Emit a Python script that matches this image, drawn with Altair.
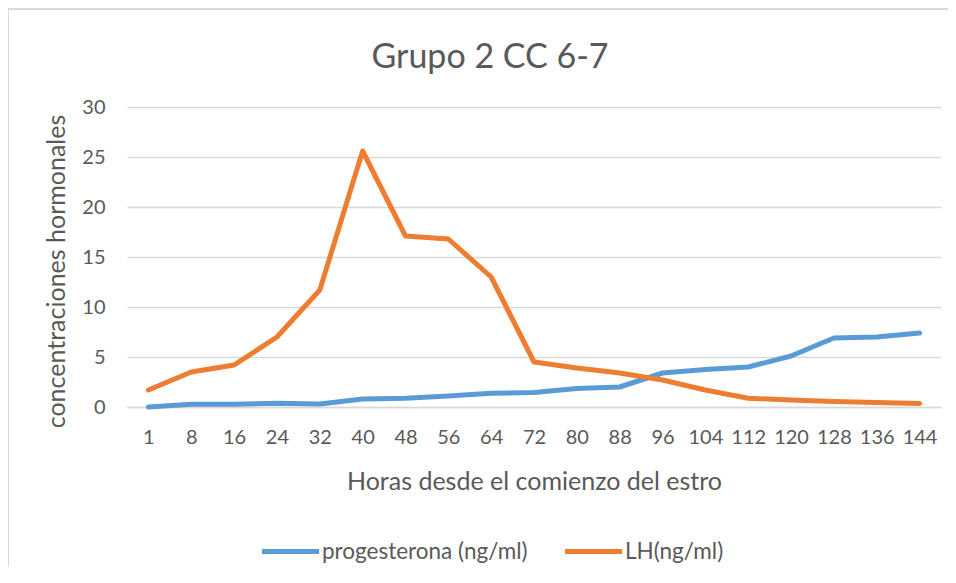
import altair as alt
import pandas as pd

horas = [1, 8, 16, 24, 32, 40, 48, 56, 64, 72, 80, 88, 96, 104, 112, 120, 128, 136, 144]
progesterona = [0.0, 0.27, 0.27, 0.37, 0.3, 0.8, 0.87, 1.1, 1.37, 1.45, 1.85, 2.0, 3.4, 3.75, 4.0, 5.1, 6.9, 7.0, 7.4]
lh = [1.7, 3.5, 4.2, 7.0, 11.7, 25.6, 17.1, 16.8, 13.0, 4.5, 3.9, 3.4, 2.7, 1.7, 0.87, 0.7, 0.55, 0.45, 0.35]
series = ["progesterona (ng/ml)", "LH(ng/ml)"]
colors = ["#5b9bd5", "#ed7d31"]
titulo = "Grupo 2 CC 6-7"

rows = []
for h, p in zip(horas, progesterona):
    rows.append({"Horas": str(h), "serie": series[0], "valor": p})
for h, v in zip(horas, lh):
    rows.append({"Horas": str(h), "serie": series[1], "valor": v})
df = pd.DataFrame(rows)

FONT = "Lato"
GREY = "#595959"

lines = alt.Chart(df).mark_line(strokeWidth=5, strokeCap="round", strokeJoin="round").encode(
    x=alt.X("Horas:O", sort=[str(h) for h in horas],
            scale=alt.Scale(type="point", padding=0.5),
            axis=alt.Axis(title="Horas desde el comienzo del estro", labelAngle=0,
                          ticks=False, domain=True, domainColor="#d9d9d9", domainWidth=1.5,
                          labelPadding=20, titlePadding=22, grid=False)),
    y=alt.Y("valor:Q", scale=alt.Scale(domain=[0, 30], nice=False),
            axis=alt.Axis(title="concentraciones hormonales", values=[0, 5, 10, 15, 20, 25, 30],
                          ticks=False, domain=False, grid=True, gridColor="#d9d9d9", gridWidth=1.5,
                          labelPadding=22, titlePadding=12, titleY=164)),
    color=alt.Color("serie:N", sort=series,
                    scale=alt.Scale(domain=series, range=colors),
                    legend=alt.Legend(title=None, orient="none", direction="horizontal",
                                      legendX=132, legendY=413, symbolType="stroke",
                                      symbolStrokeWidth=5, symbolSize=3250,
                                      labelFontSize=22.5, labelColor=GREY, labelFont=FONT,
                                      labelLimit=400, columnPadding=26, labelOffset=0)),
    order=alt.Order("serie:N"),
)

frame_top = alt.Chart(pd.DataFrame({"a": [0]})).mark_rule(stroke="#d9d9d9", strokeWidth=2).encode(
    x=alt.value(-119), x2=alt.value(840), y=alt.value(-98)
)
frame_left = alt.Chart(pd.DataFrame({"a": [0]})).mark_rule(stroke="#d9d9d9", strokeWidth=2).encode(
    x=alt.value(-119), y=alt.value(-99), y2=alt.value(500)
)

title = alt.Chart(pd.DataFrame({"t": [titulo]})).mark_text(
    font=FONT, fontSize=34, color=GREY, baseline="alphabetic", align="center"
).encode(text="t:N", x=alt.value(363), y=alt.value(-39))

chart = alt.layer(frame_top, frame_left, title, lines).properties(
    width=814, height=300,
    autosize=alt.AutoSizeParams(type="none"),
    padding={"left": 119, "top": 99, "right": 7, "bottom": 160},
).configure_view(stroke=None).configure_axis(
    labelFont=FONT, titleFont=FONT, labelColor=GREY, titleColor=GREY,
    labelFontSize=20, titleFontSize=25, titleFontWeight="normal"
)

chart.save("out.html", embed_options={"renderer": "svg", "actions": False})
